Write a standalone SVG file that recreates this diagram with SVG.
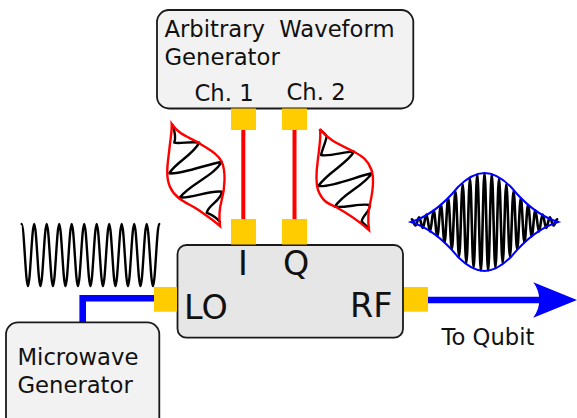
<svg xmlns="http://www.w3.org/2000/svg" width="577" height="418" viewBox="0 0 577 418">
<style>
text{font-family:"DejaVu Sans",sans-serif;fill:#111;white-space:pre}
.s{font-size:22.7px}
.b{font-size:33.4px}
.box{stroke:#1a1a1a;stroke-width:1.8}
.port{fill:#fc0}
.red{fill:none;stroke:#f00;stroke-width:2.4}
.blk{fill:none;stroke:#000;stroke-width:2.4;stroke-linejoin:round;stroke-linecap:round}
.wire{fill:none;stroke-width:4}
.bl{fill:none;stroke:#00f;stroke-width:6.6}
</style>
<g id="connectors">
<path class="wire" stroke="#f00" d="M243.3,130V219M294.5,130V219"/>
<path class="bl" d="M82.7,322V298.3H155"/>
<path class="bl" d="M428,300H541"/>
<path fill="#00f" d="M533.3,282.3L577,300L533.3,317.7C537.5,312 539.3,306 539.3,300C539.3,294 537.5,288 533.3,282.3Z"/>
</g>
<g id="awg">
<rect class="box" x="157" y="10" width="256.3" height="98.5" rx="12" fill="#f2f2f2"/>
<text class="s" x="164.500" y="36.500">Arbitrary  Waveform</text>
<text class="s" x="164.500" y="65">Generator</text>
<text class="s" x="194.500" y="100.500">Ch. 1</text>
<text class="s" x="286.500" y="99.500">Ch. 2</text>
<rect class="port" x="231" y="108.500" width="25" height="21.500"/>
<rect class="port" x="282" y="108.500" width="25" height="21.500"/>
</g>
<g id="mixer">
<rect class="box" x="177.500" y="245" width="225.500" height="92.700" rx="9" fill="#e6e6e6"/>
<rect class="port" x="231" y="219" width="25" height="25.500"/>
<rect class="port" x="282" y="219" width="25" height="25.500"/>
<rect class="port" x="154" y="287" width="23" height="24.700"/>
<rect class="port" x="404" y="287" width="24" height="24.700"/>
<text class="b" x="238" y="274.500">I</text>
<text class="b" x="283" y="274.500">Q</text>
<text class="b" x="184" y="318.500">LO</text>
<text class="b" x="350" y="317">RF</text>
</g>
<g id="microwave">
<rect class="box" x="6" y="322.300" width="153.300" height="110" rx="12" fill="#f2f2f2"/>
<text class="s" x="17.500" y="365">Microwave</text>
<text class="s" x="17.500" y="392.700">Generator</text>
</g>
<g id="to-qubit"><text class="s" x="441.500" y="344.500">To Qubit</text></g>
<g id="lo-wave">
<path class="blk" d="M21.700,224c2.300,0 4,62 6.250,62s4,-62 6.250,-62s4,62 6.250,62s4,-62 6.250,-62s4,62 6.250,62s4,-62 6.250,-62s4,62 6.250,62s4,-62 6.250,-62s4,62 6.250,62s4,-62 6.250,-62s4,62 6.250,62s4,-62 6.250,-62s4,62 6.250,62s4,-62 6.250,-62s4,62 6.250,62s4,-62 6.250,-62s4,62 6.250,62s4,-62 6.250,-62s4,62 6.250,62s4,-62 6.250,-62s4,62 6.250,62s4,-62 6.250,-62"/>
</g>
<g id="i-pulse">
<path class="blk" d="M172.500,125C175,132 176,138 174.300,142.700C180,144 192,141 199.300,142.700C192,156 176,162 169.300,173.300C180,175 208,164 221.700,161.700C214,176 190,184 180,197.300C190,199 210,190 221.700,191.700C222,200 208,205 206.700,212.700C212,215 217,218 220,222"/>
<path class="red" d="M171.700,124C180,136 190,137 199.300,143.300C210,150 218,154 221.700,161.700C226,171 225,188 221.500,201C219,210 219,218 220,226C212,219 207,216 197,209C188,203 176,200 170,187C165,176 168,162 169.500,148C170.500,138 172,132 171.700,124Z"/>
</g>
<g id="q-pulse">
<path class="blk" d="M320,130C323,132 326,134 326.700,136.700C325,144 322,150 321,155C330,157 346,151 354,151.700C347,164 328,172 318.300,186C330,188 358,176 371.700,173.300C364,186 342,194 335,206.700C345,208 362,203 370,205C370,212 362,216 361.700,221.700C364,224 366,226 369,228"/>
<path class="red" d="M320,129C328,140 338,144 354,151.700C362,156 368,160 371.500,170C375,180 372,195 370,204C368,212 368,222 369,230C360,222 352,216 336,207C326,203 322,200 318,190C314,178 318,162 319,150C320,141 321,136 320,129Z"/>
</g>
<g id="rf-wave">
<path class="blk" style="stroke-width:2.6" d="M411.900,219.400c1.400,0 2.300,6.100 3.630,6.100s2.300,-8.100 3.630,-8.100s2.300,10.500 3.630,10.500s2.300,-13.400 3.630,-13.400s2.300,16.900 3.630,16.900s2.300,-21 3.630,-21s2.300,25.800 3.630,25.800s2.300,-31.300 3.630,-31.300s2.300,37.300 3.630,37.300s2.300,-43.800 3.630,-43.800s2.300,50.700 3.630,50.700s2.300,-57.800 3.630,-57.800s2.300,65 3.630,65s2.300,-71.900 3.630,-71.900s2.300,78.400 3.630,78.400s2.300,-84.300 3.630,-84.300s2.300,89.400 3.630,89.400s2.300,-93.500 3.630,-93.500s2.300,96.200 3.630,96.200s2.300,-97.600 3.630,-97.600s2.300,97.600 3.630,97.600s2.300,-96.200 3.630,-96.200s2.300,93.500 3.630,93.500s2.300,-89.400 3.630,-89.400s2.300,84.300 3.630,84.300s2.300,-78.400 3.630,-78.400s2.300,71.900 3.630,71.900s2.300,-65 3.630,-65s2.300,57.800 3.630,57.800s2.300,-50.700 3.630,-50.700s2.300,43.800 3.630,43.800s2.300,-37.300 3.630,-37.300s2.300,31.300 3.630,31.300s2.300,-25.800 3.630,-25.800s2.300,21 3.630,21s2.300,-16.900 3.630,-16.900s2.300,13.400 3.630,13.400s2.300,-10.500 3.630,-10.500s2.300,8.100 3.630,8.100s2.300,-6.100 3.630,-6.100"/>
<path fill="none" stroke="#00f" stroke-width="2" d="M411,222C430,216 445,203 458,187C468,177 476,173 484.500,173C493,173 501,177 511,187C524,203 539,216 558,222C539,228 524,241 511,257C501,267 493,271 484.500,271C476,271 468,267 458,257C445,241 430,228 411,222Z"/>
</g>
</svg>
